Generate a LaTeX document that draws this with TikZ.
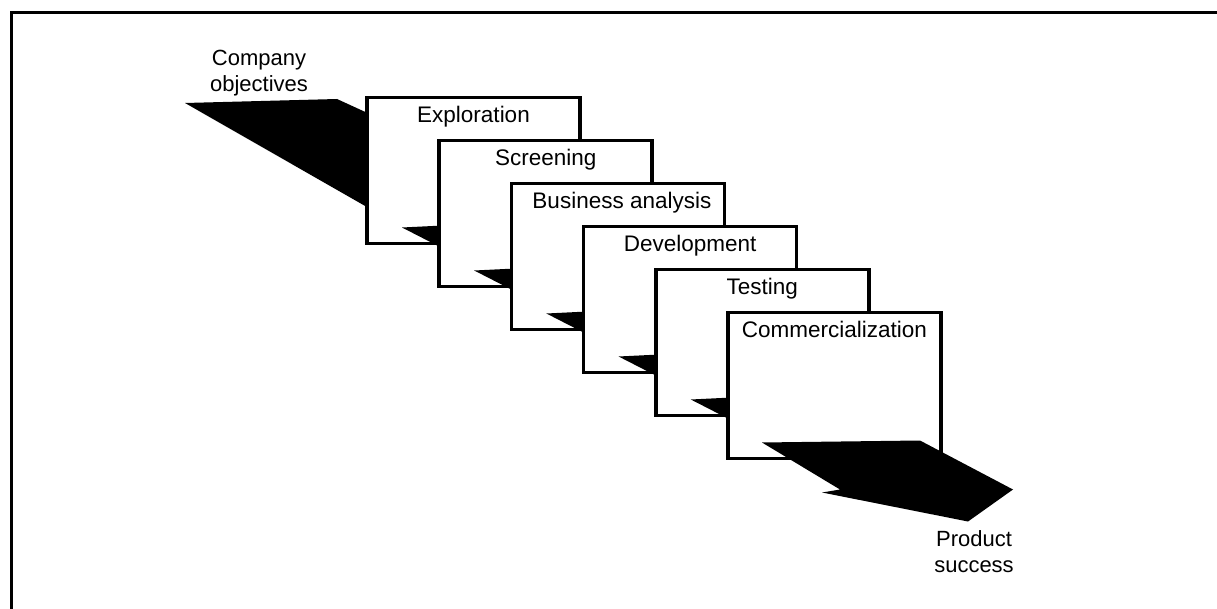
\documentclass[tikz,border=0pt]{standalone}
\usepackage{fontspec}
\setmainfont{Liberation Sans}
\usetikzlibrary{calc}
\begin{document}
\begin{tikzpicture}[x=1pt,y=-1pt,
  stage/.style={draw,line width=3.5pt,fill=white,minimum width=213pt,
    minimum height=146pt,inner sep=0pt,outer sep=0pt},
  stagelabel/.style={anchor=base,inner sep=0pt,font=\fontsize{22.5}{27}\selectfont},
  endlabel/.style={anchor=base,align=center,inner sep=0pt,font=\fontsize{22}{26}\selectfont},
  flow/.style={fill=black},
  frameline/.style={line width=3pt}]
  \useasboundingbox (0,0) rectangle (1217,609);

  % outer frame (top and left rules)
  \draw[frameline] (11,609) -- (11,13) -- (1217,13);

  % input label and the broad arrow feeding the first stage
  \node[endlabel] (lobj) at (259,92) {Company\\objectives};
  \coordinate (c0) at (367,97.5);
  \fill[flow] ($(c0)+(-182,5.5)$) -- ($(c0)+(-30,1.5)$) -- ($(c0)+(6,18)$)
    -- ($(c0)+(6,113)$) -- cycle;

  % stages, each overlapping the previous one, with a small arrow between
  \node[stage] (b1) at ($(c0)+(106.5,73)$) {};
  \node[stagelabel] (t1) at ($(b1.north)+(0,25)$) {Exploration};
  \fill[flow] ($(b1.south west)+(35,-16)$) -- ($(b1.south west)+(76,-18)$)
    -- ($(b1.south west)+(76,5)$) -- cycle;

  \node[stage] (b2) at ($(b1.center)+(72.2,43)$) {};
  \node[stagelabel] (t2) at ($(b2.north)+(0,25)$) {Screening};
  \fill[flow] ($(b2.south west)+(35,-16)$) -- ($(b2.south west)+(76,-18)$)
    -- ($(b2.south west)+(76,5)$) -- cycle;

  \node[stage] (b3) at ($(b2.center)+(72.2,43)$) {};
  \node[stagelabel] (t3) at ($(b3.north)+(4,25)$) {Business analysis};
  \fill[flow] ($(b3.south west)+(35,-16)$) -- ($(b3.south west)+(76,-18)$)
    -- ($(b3.south west)+(76,5)$) -- cycle;

  \node[stage] (b4) at ($(b3.center)+(72.2,43)$) {};
  \node[stagelabel] (t4) at ($(b4.north)+(0,25)$) {Development};
  \fill[flow] ($(b4.south west)+(35,-16)$) -- ($(b4.south west)+(76,-18)$)
    -- ($(b4.south west)+(76,5)$) -- cycle;

  \node[stage] (b5) at ($(b4.center)+(72.2,43)$) {};
  \node[stagelabel] (t5) at ($(b5.north)+(0,25)$) {Testing};
  \fill[flow] ($(b5.south west)+(35,-16)$) -- ($(b5.south west)+(76,-18)$)
    -- ($(b5.south west)+(76,5)$) -- cycle;

  \node[stage] (b6) at ($(b5.center)+(72.2,43)$) {};
  \node[stagelabel] (t6) at ($(b6.north)+(0,25)$) {Commercialization};

  % output arrow leaving the last stage
  \fill[flow] ($(b6.south west)+(34,-16)$) -- ($(b6.south west)+(192,-18)$)
    -- ($(b6.south west)+(285,31)$) -- ($(b6.south west)+(240,63)$)
    -- ($(b6.south west)+(94,34)$) -- ($(b6.south west)+(112,31)$) -- cycle;
  \node[endlabel] (lsucc) at (974,572) {Product\\success};
\end{tikzpicture}
\end{document}
